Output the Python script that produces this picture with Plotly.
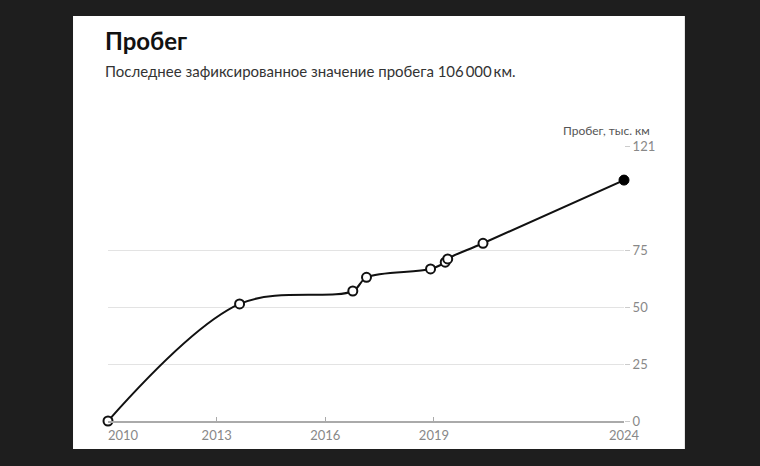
import plotly.graph_objects as go

# Data
dates = ["2010-01-01", "2013-08-20", "2016-10-05", "2017-02-20", "2018-11-28",
         "2019-04-25", "2019-05-20", "2020-05-10", "2024-04-01"]
mileage = [0, 51.5, 57.2, 63.2, 66.9, 69.9, 71.3, 78.2, 106]
x_tick_vals = ["2010-01-01", "2013-01-01", "2016-01-01", "2019-01-01", "2024-04-01"]
x_tick_text = ["\u2007\u2007\u2007\u20072010", "2013", "2016", "2019", "2024"]
y_tick_vals = [0, 25, 50, 75, 121]

title_text = "Пробег"
subtitle_text = "Последнее зафиксированное значение пробега 106\u2009000\u2009км."
axis_title = "Пробег, тыс. км"

FONT = "Lato, 'Open Sans', sans-serif"

fig = go.Figure()
fig.add_trace(go.Scatter(
    x=dates, y=mileage, mode="lines",
    line=dict(color="#111111", width=2, shape="spline", smoothing=1),
    cliponaxis=False, showlegend=False, hoverinfo="skip",
))
fig.add_trace(go.Scatter(
    x=dates[:-1], y=mileage[:-1], mode="markers",
    marker=dict(size=9, color="white", line=dict(color="#111111", width=2)),
    cliponaxis=False, showlegend=False, hoverinfo="skip",
))
fig.add_trace(go.Scatter(
    x=dates[-1:], y=mileage[-1:], mode="markers",
    marker=dict(size=10, color="#000000", line=dict(color="#000000", width=1)),
    cliponaxis=False, showlegend=False, hoverinfo="skip",
))

# white panel on dark background
fig.add_shape(type="rect", xref="paper", yref="paper",
              x0=-0.0678, x1=1.118, y0=-0.1018, y1=1.4727,
              fillcolor="white", line=dict(width=0), layer="below")

fig.add_annotation(text=f"<b>{title_text}</b>", xref="paper", yref="paper",
                   x=-0.0097, y=1.382, xanchor="left", yanchor="middle",
                   showarrow=False, font=dict(family=FONT, size=24, color="#111111"))
fig.add_annotation(text=subtitle_text, xref="paper", yref="paper",
                   x=-0.0097, y=1.271, xanchor="left", yanchor="middle",
                   showarrow=False, font=dict(family=FONT, size=15, color="#333333"))
fig.add_annotation(text=axis_title, xref="paper", yref="paper",
                   x=1.054, y=1.056, xanchor="right", yanchor="middle",
                   showarrow=False, font=dict(family=FONT, size=12, color="#555555"))

fig.update_xaxes(
    type="date", range=[dates[0], dates[-1]],
    tickvals=x_tick_vals, ticktext=x_tick_text,
    showgrid=False, zeroline=False,
    showline=True, linecolor="#aaaaaa", linewidth=1.5,
    ticks="inside", ticklen=4, tickcolor="#aaaaaa", tickwidth=1,
    ticklabelstandoff=2,
    tickfont=dict(family=FONT, size=13, color="#888888"),
)
fig.update_yaxes(
    range=[0, 121], tickvals=y_tick_vals, side="right",
    showgrid=True, gridcolor="#e3e3e3", gridwidth=1, zeroline=False,
    showline=False, ticks="outside", ticklen=5, tickcolor="#cccccc",
    tickfont=dict(family=FONT, size=13, color="#888888"),
)
fig.update_layout(
    width=760, height=466,
    margin=dict(l=108, r=136, t=146, b=45),
    paper_bgcolor="#1e1e1e", plot_bgcolor="rgba(0,0,0,0)",
    font=dict(family=FONT),
)
fig.write_html("out.html")
